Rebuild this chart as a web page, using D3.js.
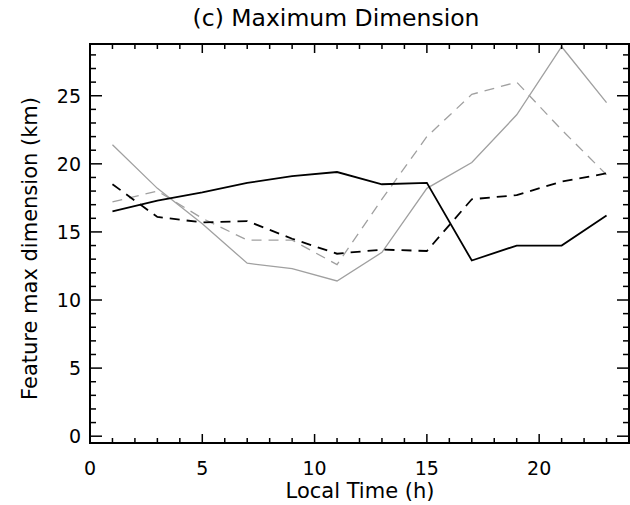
<!DOCTYPE html>
<html>
<head>
<meta charset="utf-8">
<script src="https://cdn.jsdelivr.net/npm/d3@7"></script>
<style>
  html, body { margin: 0; padding: 0; background: #fff; }
  svg { display: block; }
  text { font-family: "DejaVu Sans", sans-serif; fill: #000; }
</style>
</head>
<body>
<svg id="chart" width="630" height="505"></svg>
<script>
const hours = [1, 3, 5, 7, 9, 11, 13, 15, 17, 19, 21, 23];
const blackSolid  = [16.5, 17.3, 17.9, 18.6, 19.1, 19.4, 18.5, 18.6, 12.9, 14.0, 14.0, 16.2];
const blackDashed = [18.5, 16.1, 15.7, 15.8, 14.5, 13.4, 13.7, 13.6, 17.4, 17.7, 18.7, 19.3];
const graySolid   = [21.4, 18.2, 15.6, 12.7, 12.3, 11.4, 13.5, 18.2, 20.1, 23.6, 28.6, 24.5];
const grayDashed  = [17.2, 18.0, 16.0, 14.4, 14.4, 12.6, 17.4, 22.0, 25.1, 26.0, 22.5, 19.2];
const xTicks = [0, 5, 10, 15, 20];
const yTicks = [0, 5, 10, 15, 20, 25];
const xMinor = d3.range(0, 25, 1);
const yMinor = d3.range(0, 29, 1);
const titleText = "(c) Maximum Dimension";
const xTitle = "Local Time (h)";
const yTitle = "Feature max dimension (km)";

const svg = d3.select("#chart");
const L = 90, R = 629, T = 44, B = 443;
const x = d3.scaleLinear().domain([0, 24]).range([L, R]);
const y = d3.scaleLinear().domain([-0.5, 28.8]).range([B, T]);

const series = [
  { v: grayDashed,  color: "#a0a0a0", w: 1.3, dash: "10,7" },
  { v: graySolid,   color: "#a0a0a0", w: 1.3, dash: null },
  { v: blackDashed, color: "#000",    w: 1.8, dash: "10,7" },
  { v: blackSolid,  color: "#000",    w: 1.8, dash: null }
];

const line = d3.line().x(d => x(d[0])).y(d => y(d[1]));
series.forEach(s => {
  svg.append("path")
    .attr("d", line(hours.map((h, i) => [h, s.v[i]])))
    .attr("fill", "none")
    .attr("stroke", s.color)
    .attr("stroke-width", s.w)
    .attr("stroke-dasharray", s.dash);
});

// ticks
const g = svg.append("g").attr("stroke", "#000").attr("stroke-width", 1.5);
const xMajLen = 9, xMinLen = 5, yMajLen = 12, yMinLen = 6;
xMinor.forEach(t => {
  const len = xTicks.includes(t) ? xMajLen : xMinLen;
  g.append("line").attr("x1", x(t)).attr("x2", x(t)).attr("y1", B).attr("y2", B - len);
  g.append("line").attr("x1", x(t)).attr("x2", x(t)).attr("y1", T).attr("y2", T + len);
});
yMinor.forEach(t => {
  const len = yTicks.includes(t) ? yMajLen : yMinLen;
  g.append("line").attr("y1", y(t)).attr("y2", y(t)).attr("x1", L).attr("x2", L + len);
  g.append("line").attr("y1", y(t)).attr("y2", y(t)).attr("x1", R).attr("x2", R - len);
});

// frame
svg.append("rect").attr("x", L).attr("y", T).attr("width", R - L).attr("height", B - T)
  .attr("fill", "none").attr("stroke", "#000").attr("stroke-width", 2);

// tick labels
svg.append("g").selectAll("text").data(xTicks).join("text")
  .attr("x", d => x(d)).attr("y", 475).attr("text-anchor", "middle")
  .attr("font-size", 19).text(d => d);
svg.append("g").selectAll("text").data(yTicks).join("text")
  .attr("x", 81).attr("y", d => y(d) + 7).attr("text-anchor", "end")
  .attr("font-size", 19).text(d => d);

// titles
svg.append("text").attr("x", 336).attr("y", 26).attr("text-anchor", "middle")
  .attr("font-size", 23.5).text(titleText);
svg.append("text").attr("x", 360).attr("y", 498).attr("text-anchor", "middle")
  .attr("font-size", 21).text(xTitle);
svg.append("text").attr("transform", "translate(37," + ((T + B) / 2 + 5) + ") rotate(-90)")
  .attr("text-anchor", "middle").attr("font-size", 21).text(yTitle);
</script>
</body>
</html>
